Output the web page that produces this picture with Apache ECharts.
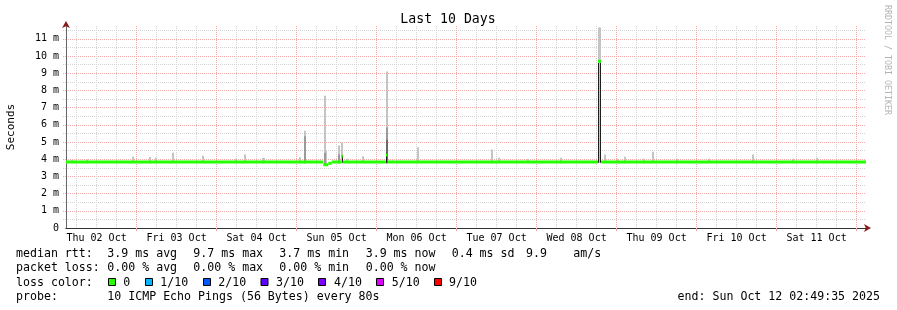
<!DOCTYPE html>
<html><head><meta charset="utf-8">
<script src="https://cdn.jsdelivr.net/npm/echarts@6/dist/echarts.min.js"></script>
<style>html,body{margin:0;padding:0;background:#fff}#c{width:897px;height:310px}</style>
</head><body><div id="c"></div>
<script>
// ---------------- data ----------------
// x values are hours since Thu 02 Oct 00:00
const startHour = 2.826;   // Thu 02 Oct 02:49:35
const endHour = 242.826;   // Sun 12 Oct 02:49:35
const yMax = 11.75;        // ms
const dayLabels = ['Thu 02 Oct','Fri 03 Oct','Sat 04 Oct','Sun 05 Oct','Mon 06 Oct','Tue 07 Oct','Wed 08 Oct','Thu 09 Oct','Fri 10 Oct','Sat 11 Oct'];
const yTickLabels = ['0','1 m','2 m','3 m','4 m','5 m','6 m','7 m','8 m','9 m','10 m','11 m'];

// median rtt (ms) as constant segments
const medianStart = [2.826, 80.0, 81.5, 82.5, 85.45, 85.85, 98.8, 99.3, 162.45, 163.35];
const medianEnd   = [80.0, 81.5, 82.5, 85.45, 85.85, 98.8, 99.3, 162.45, 163.35, 242.826];
const medianValue = [3.84, 3.68, 3.76, 3.84, 4.18, 3.84, 4.25, 3.84, 9.70, 3.84];

// smoke: [hour, low ms, high ms]
const lightSmoke = [[4.5,3.76,3.95],[9.0,3.76,3.98],[22.8,3.76,4.15],[28.0,3.76,4.13],[29.8,3.76,4.09],[35.0,3.76,4.38],[44.0,3.76,4.20],
  [53.8,3.76,4.03],[56.4,3.76,4.27],[61.8,3.76,4.09],[62.2,3.76,4.07],[73.0,3.76,4.11],[74.5,3.76,5.66],[80.4,3.70,7.70],
  [80.8,3.70,4.50],[84.6,3.76,4.80],[85.7,3.76,4.98],[87.2,3.76,4.03],[92.0,3.76,4.17],[99.0,3.76,9.10],[108.5,3.76,4.69],
  [130.5,3.76,4.56],[132.7,3.76,4.09],[141.5,3.76,4.02],[151.2,3.76,4.09],[162.6,3.80,11.66],[163.1,3.80,11.66],[164.5,3.76,4.27],
  [168.5,3.76,4.03],[170.4,3.76,4.15],[176.3,3.76,4.03],[179.0,3.76,4.44],[186.0,3.76,4.03],[195.7,3.76,4.03],[208.8,3.76,4.27],
  [221.0,3.76,4.03],[228.0,3.76,4.09]];
const midSmoke = [[74.5,3.76,5.33],[80.4,3.70,4.38],[84.6,3.76,4.27],[99.0,3.76,5.84]];
const darkerSmoke = [[99.0,3.76,5.14]];
const darkSmoke = [[85.75,3.80,4.20],[99.0,3.80,4.37],[162.5,3.80,9.60],[163.15,3.80,9.60]];

// legend texts
const rttStats = ['3.9 ms avg','9.7 ms max','3.7 ms min','3.9 ms now','0.4 ms sd','9.9','am/s'];
const lossStats = ['0.00 % avg','0.00 % max','0.00 % min','0.00 % now'];
const lossLabels = ['0','1/10','2/10','3/10','4/10','5/10','9/10'];
const lossColors = ['#26ff00','#00b8ff','#0059ff','#5e00ff','#7e00ff','#dd00ff','#ff0000'];
const probeText = '10 ICMP Echo Pings (56 Bytes) every 80s';
const endText = 'end: Sun Oct 12 02:49:35 2025';
const titleText = 'Last 10 Days';

// ---------------- layout ----------------
const MONO = '"DejaVu Sans Mono", monospace';
const minorX = []; for (let h = 6; h < endHour; h += 6) if (h % 24) minorX.push(h);
const majorX = []; for (let h = 24; h < endHour; h += 24) majorX.push(h);
const labelX = dayLabels.map((_, i) => 12 + 24 * i);
const minorY = []; for (let v = 0.5; v < yMax; v += 1) minorY.push(v);
const majorY = []; for (let v = 1; v < yMax; v += 1) majorY.push(v);
const labelY = yTickLabels.map((_, i) => i);

const chart = echarts.init(document.getElementById('c'), null, {renderer: 'canvas'});

function bandSeries(data, color, w) {
  return {
    type: 'custom', xAxisIndex: 0, yAxisIndex: 0, clip: false, silent: true,
    encode: {x: 0, y: [1, 2]},
    data: data,
    renderItem: function (params, api) {
      const t = api.value(0), lo = api.value(1), hi = api.value(2);
      const pTop = api.coord([t, hi]);
      const pBot = api.coord([t, lo]);
      return {type: 'rect', shape: {x: Math.round(pTop[0] - w / 2), y: pTop[1], width: w, height: pBot[1] - pTop[1]}, style: {fill: color}};
    }
  };
}

const medianData = medianStart.map((s, i) => [s, medianEnd[i], medianValue[i]]);
const medianSeries = {
  type: 'custom', xAxisIndex: 0, yAxisIndex: 0, clip: false, silent: true,
  encode: {x: [0, 1], y: 2},
  data: medianData,
  renderItem: function (params, api) {
    const a = api.coord([api.value(0), api.value(2)]);
    const b = api.coord([api.value(1), api.value(2)]);
    return {type: 'rect', shape: {x: a[0], y: a[1] - 1.5, width: b[0] - a[0], height: 3}, style: {fill: lossColors[0]}};
  }
};

const gridLineGrey = {color: '#d4d4d4', width: 1, type: [1, 1]};
const gridLineRed = {color: '#f5aaaa', width: 1, type: [1, 1]};

const graphics = [];
function txt(x, y, s, size, extra) {
  graphics.push(Object.assign({type: 'text', x: x, y: y, silent: true,
    style: Object.assign({text: s, fontFamily: MONO, fontSize: size, fill: '#000', verticalAlign: 'middle', align: 'left'}, extra || {})}));
}
// title
txt(448, 20, titleText, 13.2, {align: 'center'});
// y-axis name
graphics.push({type: 'text', x: 11, y: 127, rotation: Math.PI / 2, silent: true,
  style: {text: 'Seconds', fontFamily: MONO, fontSize: 11, fill: '#000', align: 'center', verticalAlign: 'middle'}});
// watermark
graphics.push({type: 'text', x: 887, y: 60, rotation: -Math.PI / 2, silent: true,
  style: {text: 'RRDTOOL / TOBI OETIKER', fontFamily: MONO, fontSize: 8.3, fill: '#b4b4b4', align: 'center', verticalAlign: 'middle'}});
// legend
const LS = 11.6;
const col = [107.3, 193.3, 279.3, 365.7, 451.7, 526, 573.3];
txt(16, 254.3, 'median rtt:', LS);
rttStats.forEach((s, i) => txt(col[i], 254.3, s, LS));
txt(16, 268.3, 'packet loss:', LS);
lossStats.forEach((s, i) => txt(col[i], 268.3, s, LS));
txt(16, 282.5, 'loss color:', LS);
const boxX = [108.5, 145.5, 203.5, 261, 318.5, 376.5, 434.5];
const boxLabelX = [123.3, 160.3, 218.3, 276, 334, 391.7, 449];
lossLabels.forEach((s, i) => {
  graphics.push({type: 'rect', silent: true, shape: {x: boxX[i], y: 278.5, width: 7, height: 7},
    style: {fill: lossColors[i], stroke: '#000', lineWidth: 1}});
  txt(boxLabelX[i], 282.5, s, LS);
});
txt(16, 296.7, 'probe:', LS);
txt(107.3, 296.7, probeText, LS);
txt(880, 296.7, endText, LS, {align: 'right'});

const axisFont = {fontFamily: MONO, fontSize: 10, color: '#000'};

chart.setOption({
  animation: false,
  backgroundColor: '#fff',
  grid: {left: 66, right: 31, top: 26, bottom: 82, containLabel: false, outerBoundsMode: 'none'},
  xAxis: [
    { type: 'value', min: startHour, max: endHour, position: 'bottom',
      axisLine: {show: true, onZero: false, symbol: ['none', 'arrow'], symbolSize: [6, 7], symbolOffset: [0, 5], lineStyle: {color: '#8b1a1a', width: 1}},
      axisTick: {show: false, customValues: minorX},
      axisLabel: {show: false},
      splitLine: {show: true, lineStyle: gridLineGrey} },
    { type: 'value', min: startHour, max: endHour, position: 'bottom',
      axisLine: {show: false},
      axisTick: {show: true, length: 3, customValues: majorX, lineStyle: {color: '#f5aaaa'}},
      axisLabel: {show: false},
      splitLine: {show: true, lineStyle: gridLineRed} },
    { type: 'value', min: startHour, max: endHour, position: 'bottom',
      axisLine: {show: true, onZero: false, lineStyle: {color: '#333', width: 1}},
      axisTick: {show: false, customValues: labelX},
      axisLabel: Object.assign({show: true, margin: 5, customValues: labelX,
        formatter: v => dayLabels[Math.round((v - 12) / 24)] || ''}, axisFont),
      splitLine: {show: false} }
  ],
  yAxis: [
    { type: 'value', min: 0, max: yMax, position: 'left',
      axisLine: {show: true, onZero: false, symbol: ['none', 'arrow'], symbolSize: [6, 7], symbolOffset: [0, 5], lineStyle: {color: '#8b1a1a', width: 1}},
      axisTick: {show: true, length: 3, customValues: minorY, lineStyle: gridLineGrey},
      axisLabel: {show: false},
      splitLine: {show: true, lineStyle: gridLineGrey} },
    { type: 'value', min: 0, max: yMax, position: 'left',
      axisLine: {show: true, onZero: false, lineStyle: {color: '#666', width: 1}},
      axisTick: {show: true, length: 3, customValues: majorY, lineStyle: gridLineRed},
      axisLabel: Object.assign({show: true, margin: 7, customValues: labelY,
        formatter: v => yTickLabels[Math.round(v)]}, axisFont),
      splitLine: {show: true, lineStyle: gridLineRed} }
  ],
  series: [
    bandSeries(lightSmoke, '#c4c4c4', 2),
    bandSeries(midSmoke, '#9a9a9a', 2),
    bandSeries(darkerSmoke, '#6a6a6a', 2),
    bandSeries(darkSmoke, '#1e1e1e', 1),
    medianSeries
  ],
  graphic: graphics
});
</script></body></html>
